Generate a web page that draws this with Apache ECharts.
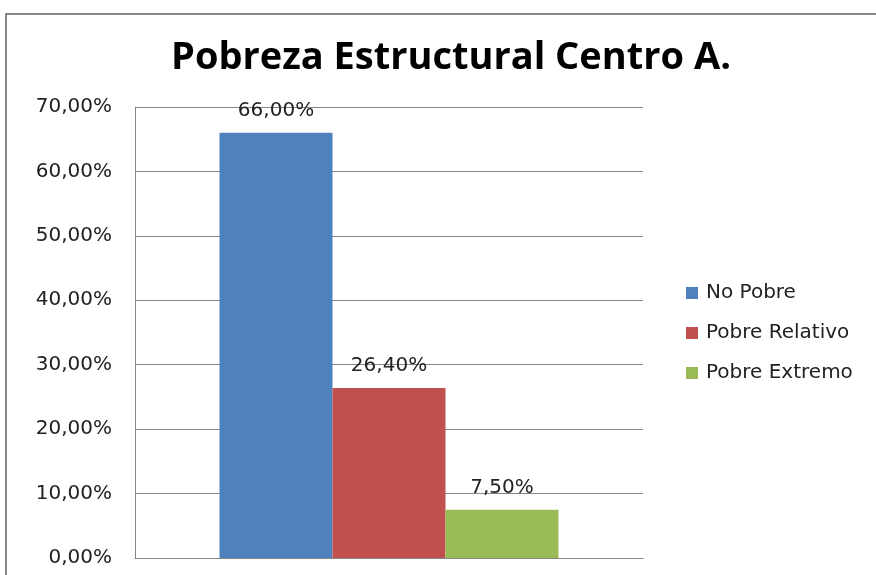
<!DOCTYPE html>
<html>
<head>
<meta charset="utf-8">
<script src="https://cdn.jsdelivr.net/npm/echarts@6/dist/echarts.min.js"></script>
<style>
  html, body { margin: 0; padding: 0; background: #fff; }
  #chart { width: 876px; height: 575px; }
</style>
</head>
<body>
<div id="chart"></div>
<script>
const categories = ['Centro A.']
const seriesNames = ['No Pobre', 'Pobre Relativo', 'Pobre Extremo']
const seriesValues = [[66.0], [26.4], [7.5]]
const colorList = ['#4F81BD', '#C0504D', '#9BBB59']

const fmt = v => v.toFixed(2).replace('.', ',') + '%'

const chart = echarts.init(document.getElementById('chart'))

const series = seriesNames.map((name, i) => ({
    name: name,
    type: 'bar',
    data: seriesValues[i],
    barWidth: 113,
    barGap: 0,
    itemStyle: { color: colorList[i] },
    label: {
        show: true,
        position: 'top',
        distance: 12,
        fontFamily: 'DejaVu Sans',
        fontSize: 20,
        color: '#222',
        formatter: p => fmt(p.value)
    }
}))

chart.setOption({
    animation: false,
    title: {
        text: 'Pobreza Estructural Centro A.',
        left: 446,
        textAlign: 'center',
        top: 34,
        textStyle: {
            fontFamily: 'Open Sans',
            fontWeight: 'bold',
            fontSize: 38,
            color: '#000'
        }
    },
    legend: {
        orient: 'vertical',
        left: 686,
        top: 283,
        padding: 0,
        itemWidth: 12,
        itemHeight: 12,
        itemGap: 20,
        icon: 'rect',
        textStyle: {
            fontFamily: 'DejaVu Sans',
            fontSize: 20,
            color: '#222',
            padding: [0, 0, 0, 3]
        }
    },
    grid: {
        left: 135,
        right: 233,
        top: 107,
        bottom: 17
    },
    xAxis: {
        type: 'category',
        data: categories,
        axisLine: { show: true, lineStyle: { color: '#868686', width: 1 } },
        axisTick: { show: false },
        axisLabel: { show: false }
    },
    yAxis: {
        type: 'value',
        min: 0,
        max: 70,
        interval: 10,
        axisLine: { show: true, lineStyle: { color: '#868686', width: 1 } },
        axisTick: { show: false },
        splitLine: { lineStyle: { color: '#868686', width: 1 } },
        axisLabel: {
            margin: 23,
            fontFamily: 'DejaVu Sans',
            fontSize: 20,
            color: '#222',
            formatter: v => fmt(v)
        }
    },
    graphic: [{
        type: 'rect',
        shape: { x: 6, y: 14, width: 900, height: 600 },
        style: { fill: null, stroke: '#868686', lineWidth: 2 },
        silent: true
    }],
    series: series
})
</script>
</body>
</html>
